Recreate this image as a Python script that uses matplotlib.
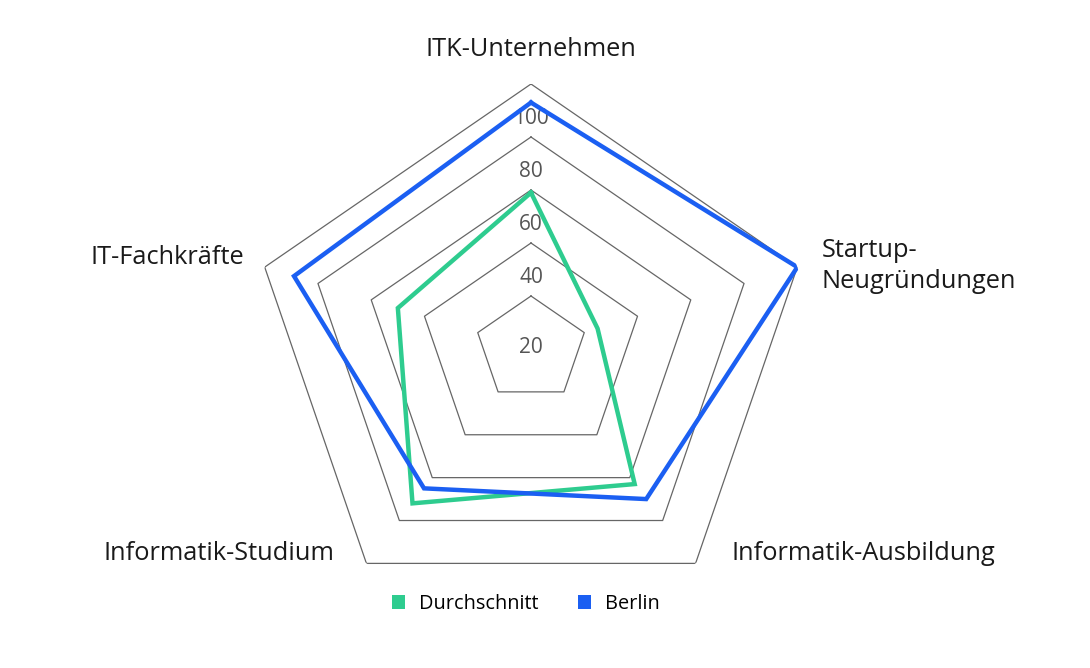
import numpy as np
import matplotlib.pyplot as plt
from matplotlib.patches import Patch

plt.rcParams['font.family'] = ['Open Sans', 'DejaVu Sans']

# Daten
kategorien = ['ITK-Unternehmen', 'Startup-\nNeugründungen', 'Informatik-Ausbildung',
              'Informatik-Studium', 'IT-Fachkräfte']
durchschnitt = [79, 45, 83, 92, 70]
berlin = [113, 120, 90, 85, 109]
ringe = [40, 60, 80, 100, 120]
tick_werte = [20, 40, 60, 80, 100]

gruen = '#2ecc8f'
blau = '#1b5ff2'

W, H = 1090, 668
fig = plt.figure(figsize=(W / 100, H / 100), dpi=100)

# Achse: Mittelpunkt (531, 349), Halbachsen 280 x 265 px
cx, cy, rx, ry = 531, 349, 280, 265
ax = fig.add_axes([(cx - rx) / W, (H - cy - ry) / H, 2 * rx / W, 2 * ry / H],
                  projection='polar')
ax.set_aspect('auto')
ax.set_theta_zero_location('N')
ax.set_theta_direction(-1)
ax.set_rlim(20, 120)
ax.grid(False)
ax.spines['polar'].set_visible(False)
ax.set_xticks([])
ax.set_yticks([])
ax.patch.set_alpha(0)

winkel = np.linspace(0, 2 * np.pi, len(kategorien), endpoint=False)
winkel_zu = np.append(winkel, winkel[0])

# Pentagon-Gitter
for r in ringe:
    ax.plot(winkel_zu, [r] * len(winkel_zu), color='#666666', lw=0.9, zorder=1)

# Tick-Beschriftungen (leicht über den Ringen)
for t in tick_werte:
    rr = 20.5 if t == 20 else t + 7
    ax.text(0, rr, str(t), ha='center', va='center', fontsize=15,
            color='#555555', zorder=2, clip_on=False)

def schliessen(werte):
    return list(werte) + [werte[0]]

ax.plot(winkel_zu, schliessen(durchschnitt), color=gruen, lw=3.2, zorder=3,
        solid_joinstyle='miter')
ax.plot(winkel_zu, schliessen(berlin), color=blau, lw=3.2, zorder=4,
        solid_joinstyle='miter')

# Kategorie-Beschriftungen
txt = dict(fontsize=18.3, color='#1a1a1a')
fig.text(531 / W, 1 - 50 / H, kategorien[0], ha='center', va='center', **txt)
fig.text(822 / W, 1 - 266 / H, kategorien[1], ha='left', va='center',
         linespacing=1.3, **txt)
fig.text(731 / W, 1 - 553 / H, kategorien[2], ha='left', va='center', **txt)
fig.text(334 / W, 1 - 553 / H, kategorien[3], ha='right', va='center', **txt)
fig.text(244 / W, 1 - 257 / H, kategorien[4], ha='right', va='center', **txt)

# Legende
handles = [Patch(facecolor=gruen, edgecolor='none'), Patch(facecolor=blau, edgecolor='none')]
fig.legend(handles, ['Durchschnitt', 'Berlin'], loc='center',
           bbox_to_anchor=(526 / W, 1 - 604 / H), ncol=2, frameon=False,
           handlelength=0.65, handleheight=0.65, handletextpad=0.7,
           columnspacing=2.0, fontsize=14.3)

fig.savefig('out.png', dpi=100)
